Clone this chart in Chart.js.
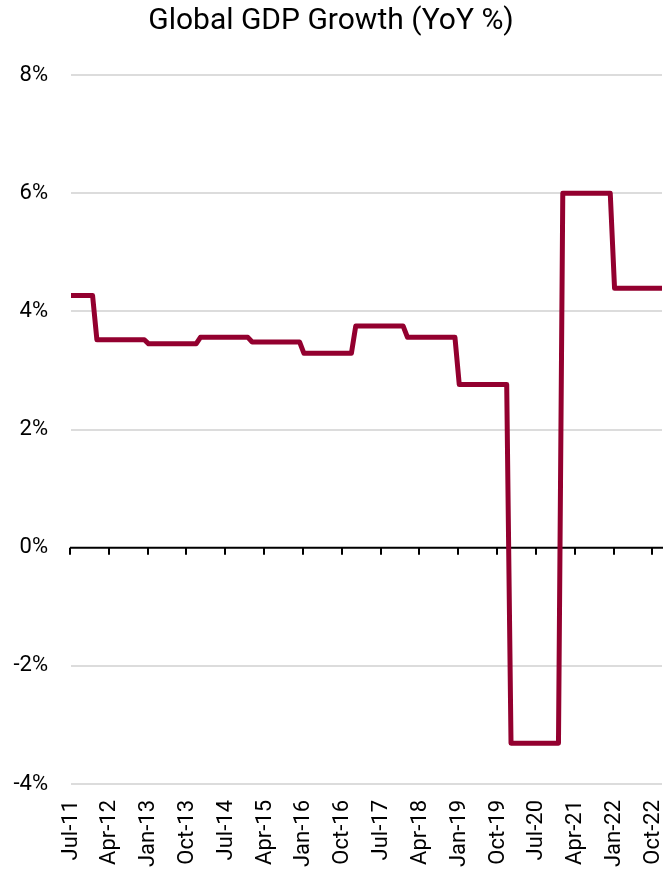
<!DOCTYPE html>
<html>
<head>
<meta charset="utf-8">
<script src="https://cdn.jsdelivr.net/npm/chart.js@4.4.1/dist/chart.umd.min.js"></script>
<style>
  html, body { margin: 0; padding: 0; background: #fff; }
  #wrap { width: 663px; height: 872px; }
</style>
</head>
<body>
<div id="wrap"><canvas id="gdpChart"></canvas></div>
<script>
// monthly series, Jul-11 .. Dec-22 (yearly figures held flat each month)
const startYear = 2011;
const monthNames = ['Jan', 'Feb', 'Mar', 'Apr', 'May', 'Jun', 'Jul', 'Aug', 'Sep', 'Oct', 'Nov', 'Dec'];

const growth = [
                              4.27, 4.27, 4.27, 4.27, 4.27, 4.27, // 2011
  3.52, 3.52, 3.52, 3.52, 3.52, 3.52, 3.52, 3.52, 3.52, 3.52, 3.52, 3.52, // 2012
  3.45, 3.45, 3.45, 3.45, 3.45, 3.45, 3.45, 3.45, 3.45, 3.45, 3.45, 3.45, // 2013
  3.56, 3.56, 3.56, 3.56, 3.56, 3.56, 3.56, 3.56, 3.56, 3.56, 3.56, 3.56, // 2014
  3.48, 3.48, 3.48, 3.48, 3.48, 3.48, 3.48, 3.48, 3.48, 3.48, 3.48, 3.48, // 2015
  3.29, 3.29, 3.29, 3.29, 3.29, 3.29, 3.29, 3.29, 3.29, 3.29, 3.29, 3.29, // 2016
  3.75, 3.75, 3.75, 3.75, 3.75, 3.75, 3.75, 3.75, 3.75, 3.75, 3.75, 3.75, // 2017
  3.56, 3.56, 3.56, 3.56, 3.56, 3.56, 3.56, 3.56, 3.56, 3.56, 3.56, 3.56, // 2018
  2.76, 2.76, 2.76, 2.76, 2.76, 2.76, 2.76, 2.76, 2.76, 2.76, 2.76, 2.76, // 2019
  -3.31, -3.31, -3.31, -3.31, -3.31, -3.31, -3.31, -3.31, -3.31, -3.31, -3.31, -3.31, // 2020
  6.0, 6.0, 6.0, 6.0, 6.0, 6.0, 6.0, 6.0, 6.0, 6.0, 6.0, 6.0, // 2021
  4.39, 4.39, 4.39, 4.39, 4.39, 4.39, 4.39, 4.39, 4.39, 4.39, 4.39, 4.39  // 2022
];

const tickLabels = ['Jul-11', 'Apr-12', 'Jan-13', 'Oct-13', 'Jul-14', 'Apr-15', 'Jan-16', 'Oct-16',
  'Jul-17', 'Apr-18', 'Jan-19', 'Oct-19', 'Jul-20', 'Apr-21', 'Jan-22', 'Oct-22'];

const yTicks = [-4, -2, 0, 2, 4, 6, 8];

// category labels like "Jul-11"
const labels = [];
for (let i = 0; i < growth.length; i++) {
  const m = (6 + i) % 12;
  const y = startYear + Math.floor((6 + i) / 12);
  labels.push(monthNames[m] + '-' + String(y).slice(2));
}

const FONT = 'Roboto';
const lineColor = '#93002f';

// black zero line with small tick marks under each shown date
const zeroAxis = {
  id: 'zeroAxis',
  beforeDatasetsDraw(chart) {
    const { ctx, chartArea, scales } = chart;
    const y0 = scales.y.getPixelForValue(0);
    ctx.save();
    ctx.strokeStyle = '#000';
    ctx.lineWidth = 2;
    ctx.beginPath();
    ctx.moveTo(chartArea.left - 1, y0);
    ctx.lineTo(chartArea.right + 2, y0);
    scales.x.ticks.forEach((t) => {
      if (tickLabels.includes(labels[t.value])) {
        const x = Math.round(scales.x.getPixelForValue(t.value)) - 1;
        ctx.moveTo(x, y0);
        ctx.lineTo(x, y0 + 7);
      }
    });
    ctx.stroke();
    ctx.restore();
  }
};

new Chart(document.getElementById('gdpChart'), {
  type: 'line',
  data: {
    labels: labels,
    datasets: [{
      data: growth,
      borderColor: lineColor,
      borderWidth: 5,
      borderJoinStyle: 'round',
      pointRadius: 0,
      tension: 0,
      fill: false
    }]
  },
  options: {
    responsive: true,
    maintainAspectRatio: false,
    animation: false,
    layout: { padding: { left: 0, right: 1, top: 0, bottom: 0 } },
    plugins: {
      legend: { display: false },
      tooltip: { enabled: false },
      title: {
        display: true,
        text: 'Global GDP Growth (YoY %)',
        color: '#000',
        font: { family: FONT, size: 30, weight: 'normal' },
        padding: { top: 3, bottom: 36 }
      }
    },
    scales: {
      x: {
        offset: false,
        grid: { display: false, drawTicks: false },
        border: { display: false },
        afterFit: (scale) => {
          scale.height = 88;
          scale.paddingRight = 0;
          scale.paddingLeft = 0;
        },
        ticks: {
          autoSkip: false,
          maxRotation: 90,
          minRotation: 90,
          padding: 16,
          color: '#000',
          font: { family: FONT, size: 22 },
          callback: function (value) {
            const l = labels[value];
            return tickLabels.includes(l) ? l : '';
          }
        }
      },
      y: {
        min: -4,
        max: 8,
        afterBuildTicks: (scale) => { scale.ticks = yTicks.map(v => ({ value: v })); },
        afterFit: (scale) => { scale.width = 71; },
        grid: {
          drawTicks: false,
          lineWidth: 2,
          color: (c) => (c.tick && c.tick.value === 0 ? 'rgba(0,0,0,0)' : '#dcdcdc')
        },
        border: { display: false },
        ticks: {
          padding: 23,
          color: '#000',
          font: { family: FONT, size: 22 },
          callback: (v) => v + '%'
        }
      }
    }
  },
  plugins: [zeroAxis]
});
</script>
</body>
</html>
